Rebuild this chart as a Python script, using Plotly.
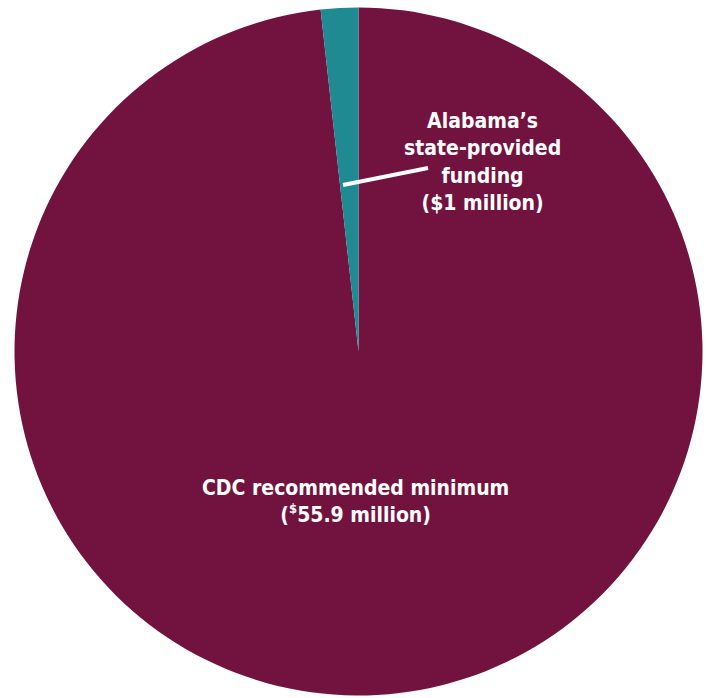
import plotly.graph_objects as go

labels = ["CDC recommended minimum", "Alabama's state-provided funding"]
values = [55.9, 1]
colors = ["#72133F", "#1F8A92"]

W, H = 708, 698
cx, cy, r = 358.5, 351.5, 344

fig = go.Figure(go.Pie(
    labels=labels, values=values, sort=False, direction="clockwise", rotation=0,
    marker=dict(colors=colors, line=dict(width=0)),
    textinfo="none", hoverinfo="label+value", showlegend=False,
    domain=dict(x=[(cx - r) / W, (cx + r) / W], y=[(H - cy - r) / H, (H - cy + r) / H]),
))

font = dict(family="DejaVu Sans Condensed, Arial Narrow, sans-serif",
            size=21, color="white")

fig.add_annotation(text="<b>CDC recommended minimum<br>(<sup><span style='font-size:13px'>$</span></sup>%.1f million)</b>" % values[0],
                   x=355.5 / W, y=1 - 501 / H, xref="paper", yref="paper",
                   showarrow=False, font=font, align="center", xanchor="center", yanchor="middle")
fig.add_annotation(text="<b>Alabama’s<br>state-provided<br>funding<br>($%g million)</b>" % values[1],
                   x=482 / W, y=1 - 162 / H, xref="paper", yref="paper",
                   showarrow=False, font=font, align="center", xanchor="center", yanchor="middle")
# cut-off heading at the very top
fig.add_annotation(text="<b>Alabama’s spending</b>", x=545 / W, y=1 - 3 / H, xref="paper", yref="paper",
                   showarrow=False, xanchor="right", yanchor="bottom",
                   font=dict(family="DejaVu Sans Condensed, sans-serif",
                             size=28, color="#1F8A92"))

fig.add_shape(type="line", xref="paper", yref="paper",
              x0=343 / W, y0=1 - 185 / H, x1=428 / W, y1=1 - 168 / H,
              line=dict(color="white", width=4))

fig.update_layout(width=W, height=H, margin=dict(l=0, r=0, t=0, b=0),
                  paper_bgcolor="white", plot_bgcolor="white")
fig.write_html("out.html")
